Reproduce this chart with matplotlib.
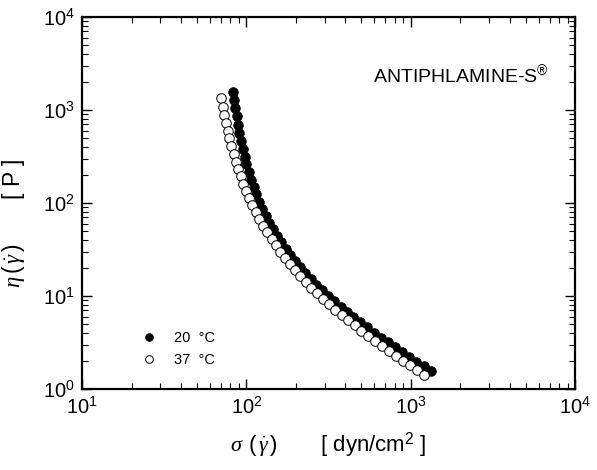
import numpy as np
import matplotlib
matplotlib.use("Agg")
import matplotlib.pyplot as plt

plt.rcParams['font.family'] = ['Liberation Sans', 'DejaVu Sans']
plt.rcParams['mathtext.fontset'] = 'custom'
plt.rcParams['mathtext.rm'] = 'Liberation Sans'
plt.rcParams['mathtext.it'] = 'Liberation Serif:italic'
plt.rcParams['mathtext.bf'] = 'Liberation Sans:bold'

# 20 oC  (shear stress [dyn/cm2], viscosity [P])
sigma_20 = [83.4, 84.5, 85.8, 87.3, 88.9, 90.7, 92.7, 94.9, 97.4, 100.1,
            103.2, 106.7, 110.6, 114.9, 119.7, 125.1, 131.1, 137.8, 145.3, 153.6,
            163.0, 173.4, 185.0, 198.0, 212.5, 228.6, 246.7, 266.8, 289.3, 314.5,
            342.5, 373.8, 408.8, 447.8, 491.4, 540.0, 594.3, 654.9, 722.6, 798.1,
            882.5, 976.6, 1082, 1199, 1330]
eta_20 = [1576, 1282, 1044, 852, 696, 570, 467, 384, 316, 261,
          216, 179, 148.8, 124.0, 103.7, 86.9, 73.1, 61.7, 52.2, 44.2,
          37.7, 32.1, 27.5, 23.6, 20.3, 17.57, 15.21, 13.20, 11.48, 10.01,
          8.75, 7.66, 6.72, 5.91, 5.20, 4.59, 4.05, 3.58, 3.17, 2.81,
          2.49, 2.21, 1.97, 1.75, 1.56]

# 37 oC
sigma_37 = [70.5, 71.9, 73.4, 75.0, 76.9, 78.9, 81.1, 83.5, 86.1, 88.9,
            92.1, 95.6, 99.5, 103.9, 108.7, 114.1, 120.1, 126.8, 134.1, 142.3,
            151.2, 161.2, 172.0, 184.1, 197.6, 212.6, 229.4, 248.2, 269.1, 292.4,
            318.5, 347.7, 380.2, 415.5, 455.5, 499.5, 548.6, 603.8, 664.8, 732.7,
            808.3, 893.6, 987.7, 1094, 1210]
eta_37 = [1332, 1090, 893, 733, 602, 496, 409, 338, 279, 232,
          193, 160, 133.9, 112.1, 94.2, 79.3, 67.0, 56.8, 48.2, 40.9,
          35.0, 29.9, 25.6, 21.9, 18.9, 16.34, 14.15, 12.28, 10.68, 9.31,
          8.14, 7.12, 6.25, 5.48, 4.82, 4.25, 3.74, 3.30, 2.92, 2.58,
          2.28, 2.02, 1.80, 1.60, 1.42]

fig = plt.figure(figsize=(5.97, 4.70), dpi=100)
ax = fig.add_axes([0.1374, 0.1723, 0.826, 0.7915])

ax.plot(sigma_20, eta_20, 'o', ms=6.9, mfc='black', mec='black', mew=0.6,
        label='20  \u00b0C', zorder=3)
ax.plot(sigma_37, eta_37, 'o', ms=6.9, mfc='white', mec='black', mew=0.7,
        label='37  \u00b0C', zorder=4)

ax.set_xscale('log')
ax.set_yscale('log')
ax.set_xlim(10, 1e4)
ax.set_ylim(1, 1e4)

for s in ax.spines.values():
    s.set_linewidth(1.6)
ax.tick_params(which='both', direction='in', top=True, right=True,
               labelsize=14.5)
ax.tick_params(which='major', length=7, width=1.0, pad=5)
ax.tick_params(which='minor', length=4, width=0.8)

ax.set_xlabel(r'$\sigma\;\,(\,\dot{\gamma}\,)$' + '       [ dyn/cm$^2$ ]',
              fontsize=16, labelpad=9)
ax.set_ylabel(r'$\eta\,(\,\dot{\gamma}\,)$' + '       [ P ]', fontsize=16.5)
ax.yaxis.set_label_coords(-0.112, 0.445)

ax.text(0.769, 0.844, 'ANTIPHLAMINE-S$^{\u00ae}$', transform=ax.transAxes,
        ha='center', va='center', fontsize=14)

ax.legend(loc='upper left', bbox_to_anchor=(0.122, 0.155), frameon=False,
          fontsize=10.5, markerscale=0.8, handletextpad=1.3, labelspacing=0.5,
          handlelength=0.9, borderpad=0, borderaxespad=0)

fig.savefig('out.png', dpi=100)
